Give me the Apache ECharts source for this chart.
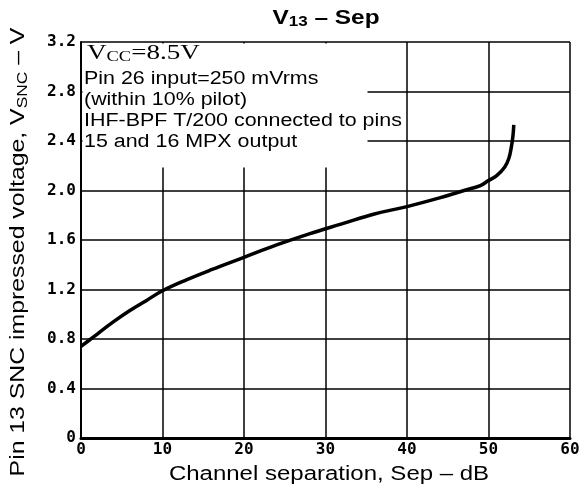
<!DOCTYPE html>
<html>
<head>
<meta charset="utf-8">
<script src="https://cdn.jsdelivr.net/npm/echarts@6/dist/echarts.min.js"></script>
<style>html,body{margin:0;padding:0;background:#fff}#c{width:587px;height:495px}</style>
</head>
<body>
<div id="c"></div>
<script>
// Data
var sepDb = [0, 1, 2, 4, 6, 8, 10, 13, 16, 20, 24, 28, 32, 36, 40, 44, 47, 49, 50, 51, 52, 52.5, 52.8, 53.0, 53.1];
var vSnc  = [0.74, 0.79, 0.84, 0.94, 1.03, 1.11, 1.19, 1.28, 1.36, 1.46, 1.56, 1.65, 1.73, 1.81, 1.87, 1.94, 2.00, 2.04, 2.08, 2.12, 2.19, 2.26, 2.35, 2.44, 2.53];
var xTicks = [0, 10, 20, 30, 40, 50, 60];
var yTicks = ['0', '0.4', '0.8', '1.2', '1.6', '2.0', '2.4', '2.8', '3.2'];
var noteLines = ['Pin 26 input=250 mVrms', '(within 10% pilot)', 'IHF-BPF T/200 connected to pins', '15 and 16 MPX output'];

var points = sepDb.map(function (x, i) { return [x, vSnc[i]]; });
var sans = 'Liberation Sans, Arial, sans-serif';
var tickFont = '"DejaVu Sans Mono", monospace';

var chart = echarts.init(document.getElementById('c'), null, {renderer: 'canvas'});

var graphics = [
  // white box hiding grid behind the annotation
  {type: 'rect', z: 50, shape: {x: 82.5, y: 43.5, width: 285, height: 124}, style: {fill: '#fff'}},
  // title
  {type: 'text', z: 60, x: 326, y: 18, scaleX: 1.22,
   style: {text: '{a|V}{s|13}{a| – Sep}', x: 0, y: 0, align: 'center', verticalAlign: 'middle',
     rich: {a: {font: 'bold 20px ' + sans, fill: '#000'}, s: {font: 'bold 14px ' + sans, fill: '#000', padding: [9, 0, 0, 0]}}}},
  // x axis title
  {type: 'text', z: 60, x: 329, y: 474, scaleX: 1.2,
   style: {text: 'Channel separation, Sep – dB', x: 0, y: 0, align: 'center', verticalAlign: 'middle',
     font: '20px ' + sans, fill: '#000'}},
  // y axis title
  {type: 'text', z: 60, x: 18, y: 252, rotation: Math.PI / 2, scaleX: 1.24,
   style: {text: '{a|Pin 13 SNC impressed voltage, V}{s|SNC}{a| – V}', x: 0, y: 0, align: 'center', verticalAlign: 'middle',
     rich: {a: {font: '20px ' + sans, fill: '#000'}, s: {font: '14px ' + sans, fill: '#000', padding: [10, 0, 0, 0]}}}},
  // Vcc
  {type: 'text', z: 60, x: 87, y: 53, scaleX: 1.23,
   style: {text: '{a|V}{s|CC}{a|=8.5V}', x: 0, y: 0, align: 'left', verticalAlign: 'middle',
     rich: {a: {font: '22px Liberation Serif, serif', fill: '#000'}, s: {font: '15px Liberation Serif, serif', fill: '#000', padding: [9, 0, 0, 0]}}}}
];
var noteY = [79, 100, 121, 142];
noteLines.forEach(function (t, i) {
  graphics.push({type: 'text', z: 60, x: 84, y: noteY[i], scaleX: 1.19,
    style: {text: t, x: 0, y: 0, align: 'left', verticalAlign: 'middle', font: '18px ' + sans, fill: '#000'}});
});

chart.setOption({
  animation: false,
  backgroundColor: '#fff',
  grid: {left: 81, right: 17, top: 42, bottom: 57, containLabel: false},
  xAxis: {
    type: 'value', min: 0, max: 60, interval: 10,
    axisLine: {show: true, lineStyle: {color: '#000', width: 3}},
    axisTick: {show: false},
    axisLabel: {color: '#000', fontFamily: tickFont, fontWeight: 'bold', fontSize: 16, margin: 4,
      formatter: function (v) { return xTicks.indexOf(v) >= 0 ? String(v) : ''; }},
    splitLine: {show: true, lineStyle: {color: '#000', width: 1.5}}
  },
  yAxis: {
    type: 'value', min: 0, max: 3.2, interval: 0.4,
    axisLine: {show: true, lineStyle: {color: '#000', width: 2}},
    axisTick: {show: false},
    axisLabel: {color: '#000', fontFamily: tickFont, fontWeight: 'bold', fontSize: 16, margin: 5,
      formatter: function (v) { return yTicks[Math.round(v / 0.4)]; }},
    splitLine: {show: true, lineStyle: {color: '#000', width: 1.5}}
  },
  series: [{
    type: 'line', data: points, smooth: 0.4, showSymbol: false, symbol: 'none',
    lineStyle: {color: '#000', width: 3.5}, z: 5
  }],
  graphic: graphics
});
</script>
</body>
</html>
